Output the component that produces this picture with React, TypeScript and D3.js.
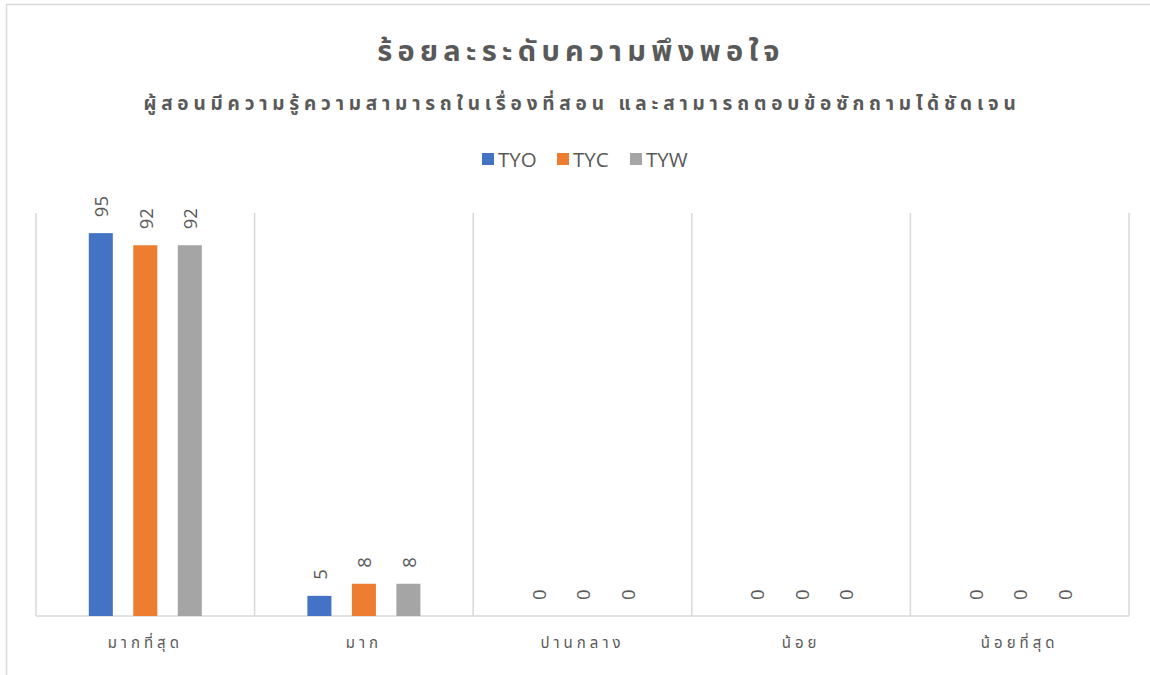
import React from "react";
import * as d3 from "d3";

const categories = ["มากที่สุด", "มาก", "ปานกลาง", "น้อย", "น้อยที่สุด"];
const seriesNames = ["TYO", "TYC", "TYW"];
const seriesColors = ["#4472C4", "#ED7D31", "#A5A5A5"];
const valuesTYO = [95, 5, 0, 0, 0];
const valuesTYC = [92, 8, 0, 0, 0];
const valuesTYW = [92, 8, 0, 0, 0];
const seriesValues = [valuesTYO, valuesTYC, valuesTYW];
const title = "ร้อยละระดับความพึงพอใจ";
const subtitle = "ผู้สอนมีความรู้ความสามารถในเรื่องที่สอน และสามารถตอบข้อซักถามได้ชัดเจน";

const W = 1150;
const H = 675;
const plotLeft = 36;
const plotRight = 1129;
const plotTop = 213;
const plotBottom = 616;
const thaiFont = "'Noto Sans Thai', 'Leelawadee UI', Tahoma, 'DejaVu Sans', sans-serif";
const latinFont = "'Open Sans', 'Noto Sans', sans-serif";
const textColor = "#595959";
const gridColor = "#d9d9d9";

export default function App() {
  const x0 = d3.scaleBand<string>().domain(categories).range([plotLeft, plotRight]).padding(0);
  const x1 = d3
    .scaleBand<string>()
    .domain(seriesNames)
    .range([-66.75, 66.75])
    .paddingInner(0.46)
    .paddingOuter(0.23);
  const y = d3.scaleLinear().domain([0, 100]).range([plotBottom, plotTop]);
  const gridXs = categories.map((c) => x0(c) as number).concat([plotRight]);

  return (
    <svg
      width={W}
      height={H}
      style={{ position: "absolute", left: 0, top: 0, background: "#fff" }}
    >
      <rect x={6.5} y={4.5} width={1200} height={720} fill="#fff" stroke={gridColor} strokeWidth={1.5} />
      <text
        x={581}
        y={61}
        textAnchor="middle"
        fontFamily={thaiFont}
        fontSize={29}
        fontWeight="bold"
        fill={textColor}
        letterSpacing={5.3}
      >
        {title}
      </text>
      <text
        x={582}
        y={110}
        textAnchor="middle"
        fontFamily={thaiFont}
        fontSize={19}
        fontWeight="bold"
        fill={textColor}
        letterSpacing={4.8}
      >
        {subtitle}
      </text>
      {/* legend */}
      {seriesNames.map((s, i) => {
        const lx = [482, 557, 630][i];
        return (
          <g key={s}>
            <rect x={lx} y={153} width={12} height={12} fill={seriesColors[i]} />
            <text x={lx + 16} y={167} fontFamily={latinFont} fontSize={20.5} fill={textColor}>
              {s}
            </text>
          </g>
        );
      })}
      {/* grid */}
      {gridXs.map((gx, i) => (
        <line key={i} x1={gx} x2={gx} y1={plotTop} y2={plotBottom} stroke={gridColor} strokeWidth={1.5} />
      ))}
      <line x1={plotLeft} x2={plotRight} y1={plotBottom} y2={plotBottom} stroke={gridColor} strokeWidth={1.5} />
      {/* bars */}
      {categories.map((c, ci) => {
        const cx = (x0(c) as number) + x0.bandwidth() / 2;
        return (
          <g key={c}>
            {seriesNames.map((s, si) => {
              const v = seriesValues[si][ci];
              const bx = cx + (x1(s) as number);
              const bw = x1.bandwidth();
              const by = y(v);
              const lx = bx + bw / 2;
              const ly = by - 16;
              return (
                <g key={s}>
                  {v > 0 && <rect x={bx} y={by} width={bw} height={plotBottom - by} fill={seriesColors[si]} />}
                  <text
                    transform={`translate(${lx},${ly}) rotate(-90)`}
                    fontFamily={latinFont}
                    fontSize={18.5}
                    fill={textColor}
                    dominantBaseline="central"
                    textAnchor="start"
                  >
                    {v}
                  </text>
                </g>
              );
            })}
            <text
              x={cx}
              y={648}
              textAnchor="middle"
              fontFamily={thaiFont}
              fontSize={15}
              fill={textColor}
              letterSpacing={4}
            >
              {c}
            </text>
          </g>
        );
      })}
    </svg>
  );
}
